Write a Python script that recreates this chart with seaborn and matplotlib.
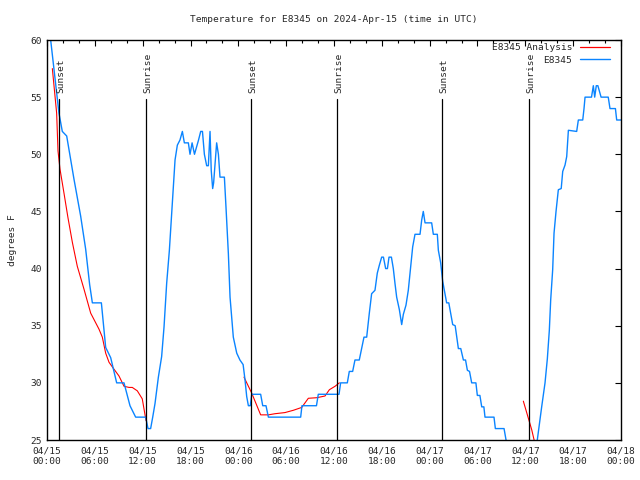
import numpy as np
import pandas as pd
import matplotlib
matplotlib.use("Agg")
import matplotlib.pyplot as plt
from matplotlib.lines import Line2D
import seaborn as sns

# hours since 2024-04-15 00:00 UTC
obs_hours = [0.0, 0.46, 1.5, 1.92, 2.47, 3.39, 4.22, 4.85, 5.35, 5.69, 6.82,
             7.36, 7.99, 8.74, 9.66, 10.41, 11.12, 12.38, 12.67, 13.0, 13.26,
             13.55, 13.97, 14.38, 14.68, 15.01, 15.35, 15.64, 15.85, 16.06,
             16.35, 16.68, 16.98, 17.23, 17.73, 17.94, 18.2, 18.5, 18.99,
             19.28, 19.5, 19.74, 20.03, 20.24, 20.45, 20.6, 20.78, 20.9,
             21.28, 21.5, 21.7, 22.25, 22.45, 22.75, 22.96, 23.37, 23.8,
             24.2, 24.6, 24.84, 25.05, 25.26, 25.5, 25.68, 26.8, 27.06, 27.47,
             27.77, 31.82, 31.98, 33.8, 34.03, 36.63, 36.83, 37.67, 37.92,
             38.34, 38.63, 39.17, 39.47, 39.76, 40.1, 40.43, 40.72, 41.14,
             41.43, 41.69, 41.98, 42.2, 42.48, 42.7, 42.9, 43.2, 43.44, 43.65,
             43.86, 44.2, 44.49, 44.7, 45.03, 45.32, 45.62, 45.87, 46.16,
             46.79, 47.0, 47.2, 47.42, 48.25, 48.46, 48.96, 49.09, 49.38,
             49.63, 50.13, 50.4, 50.89, 51.2, 51.6, 51.9, 52.23, 52.5, 52.73,
             53.0, 53.27, 53.8, 53.98, 54.3, 54.53, 54.8, 54.94, 56.07, 56.24,
             57.33, 57.58, 57.8, 61.3, 61.5, 62.05, 62.47, 62.76, 63.01,
             63.18, 63.43, 63.6, 63.85, 64.14, 64.5, 64.69, 64.98, 65.19,
             65.4, 66.44, 66.65, 67.2, 67.36, 67.49, 68.3, 68.53, 68.7, 68.9,
             69.1, 69.5, 69.79, 70.4, 70.62, 71.3, 71.46, 72.0]
obs_temp = [61.5, 60.0, 53.6, 52.0, 51.6, 47.8, 44.6, 41.7, 38.6, 37.0, 37.0,
            33.1, 32.2, 30.0, 30.0, 28.0, 27.0, 27.0, 26.0, 26.0, 27.0,
            28.2, 30.5, 32.3, 34.9, 38.7, 41.6, 44.8, 47.2, 49.5,
            50.8, 51.25, 52.0, 51.0, 51.0, 50.0, 51.0, 50.0, 51.2,
            52.0, 52.0, 50.0, 49.0, 49.0, 52.0, 48.6, 47.0, 47.5,
            51.0, 50.0, 48.0, 48.0, 45.4, 41.3, 37.5, 34.0, 32.6,
            32.0, 31.6, 30.25, 28.8, 28.0, 28.0, 29.0, 29.0, 28.0, 28.0,
            27.0, 27.0, 28.0, 28.0, 29.0, 29.0, 30.0, 30.0, 31.0,
            31.0, 32.0, 32.0, 33.0, 34.0, 34.0, 36.1, 37.8, 38.1,
            39.6, 40.3, 41.0, 41.0, 40.0, 40.0, 41.0, 41.0, 40.0, 38.7,
            37.5, 36.4, 35.1, 36.0, 36.8, 38.1, 40.2, 41.9, 43.0,
            43.0, 44.25, 45.0, 44.0, 44.0, 43.0, 43.0, 41.6, 40.5,
            38.9, 37.0, 37.0, 35.1, 35.0, 33.0, 33.0, 32.0, 32.0, 31.1,
            31.0, 30.0, 30.0, 28.9, 28.9, 27.9, 27.9, 27.0, 27.0, 26.0,
            26.0, 25.0, 24.0, 24.0, 25.0, 27.9, 30.0, 32.1, 34.6,
            37.25, 39.9, 43.1, 45.0, 46.9, 47.0, 48.5, 49.06, 49.8,
            52.1, 52.0, 53.0, 53.0, 54.0, 55.0, 55.0, 56.0, 55.0, 56.0,
            56.0, 55.0, 55.0, 55.0, 54.0, 54.0, 53.0, 53.0]

ana_hours = [0.67, 1.21, 1.38, 1.63, 2.13, 2.63, 3.18, 3.8, 4.64, 5.48, 6.52,
             6.94, 7.36, 7.78, 8.4, 9.03, 9.66, 10.29, 10.7, 11.33, 11.95,
             12.42,
             24.71, 25.68, 26.8, 27.77, 28.6, 29.85, 30.9, 31.95, 32.78,
             33.83, 34.87, 35.42, 36.13, 36.67,
             59.75, 60.8, 61.1]
ana_temp = [57.5, 53.6, 50.3, 48.7, 46.6, 44.45, 42.3, 40.2, 38.2, 36.1, 34.7,
            34.0, 32.6, 31.8, 31.2, 30.6, 29.7, 29.6, 29.6, 29.3, 28.6,
            26.7,
            30.5, 29.1, 27.2, 27.2, 27.3, 27.4, 27.6, 27.85, 28.65,
            28.7, 28.85, 29.4, 29.7, 30.0,
            28.4, 25.9, 25.0]
ana_segment = [0] * 22 + [1] * 14 + [2] * 3

sun_hours = [1.5, 12.42, 25.6, 36.4, 49.6, 60.5]
sun_labels = ["Sunset", "Sunrise", "Sunset", "Sunrise", "Sunset", "Sunrise"]

tick_hours = [0, 6, 12, 18, 24, 30, 36, 42, 48, 54, 60, 66, 72]
tick_labels = ["04/15\n00:00", "04/15\n06:00", "04/15\n12:00", "04/15\n18:00",
               "04/16\n00:00", "04/16\n06:00", "04/16\n12:00", "04/16\n18:00",
               "04/17\n00:00", "04/17\n06:00", "04/17\n12:00", "04/17\n18:00",
               "04/18\n00:00"]

RED = "#ff0000"
BLUE = "#0a84ff"

sns.set_style("white")
plt.rcParams["font.family"] = ["DejaVu Sans Mono"]
plt.rcParams["font.size"] = 6.8

obs_df = pd.DataFrame({"hour": obs_hours, "temp": obs_temp})
ana_df = pd.DataFrame({"hour": ana_hours, "temp": ana_temp, "seg": ana_segment})

fig = plt.figure(figsize=(6.4, 4.8), dpi=100)
ax = fig.add_axes([47 / 640, 40 / 480, 574 / 640, 400 / 480])

sns.lineplot(data=ana_df, x="hour", y="temp", units="seg", estimator=None,
             color=RED, linewidth=0.8, ax=ax, legend=False)
sns.lineplot(data=obs_df, x="hour", y="temp", estimator=None,
             color=BLUE, linewidth=1.0, ax=ax, legend=False)

for h, lab in zip(sun_hours, sun_labels):
    ax.plot([h, h], [25, 54.8], color="black", linewidth=0.9)
    ax.text(h + 0.2, 55.4, lab, rotation=90, ha="center", va="bottom",
            fontsize=6.8)

ax.set_xlim(0, 72)
ax.set_ylim(25, 60)
ax.set_xticks(tick_hours)
ax.set_xticklabels(tick_labels)
ax.set_xticks(np.arange(0, 73, 2), minor=True)
ax.set_yticks(np.arange(25, 61, 5))
ax.tick_params(which="both", direction="in", top=True, right=True,
               labelsize=6.8, color="black", width=0.8)
ax.tick_params(which="major", length=4)
ax.tick_params(which="minor", length=2)
ax.tick_params(axis="x", pad=5)
for s in ax.spines.values():
    s.set_color("black")
    s.set_linewidth(1)

ax.set_xlabel("")
ax.set_ylabel("degrees F", fontsize=6.8, labelpad=10)
ax.set_title("Temperature for E8345 on 2024-Apr-15 (time in UTC)",
             fontsize=6.8, pad=13)

handles = [Line2D([], [], color=RED, linewidth=0.9),
           Line2D([], [], color=BLUE, linewidth=1.0)]
ax.legend(handles, ["E8345 Analysis", "E8345"], loc="upper right",
          bbox_to_anchor=(610 / 640, 1 - 43 / 480),
          bbox_transform=fig.transFigure, frameon=False, markerfirst=False,
          handlelength=3.2, handletextpad=0.8, borderpad=0, borderaxespad=0,
          labelspacing=0.4, fontsize=6.8)

fig.savefig("out.png", dpi=100)
